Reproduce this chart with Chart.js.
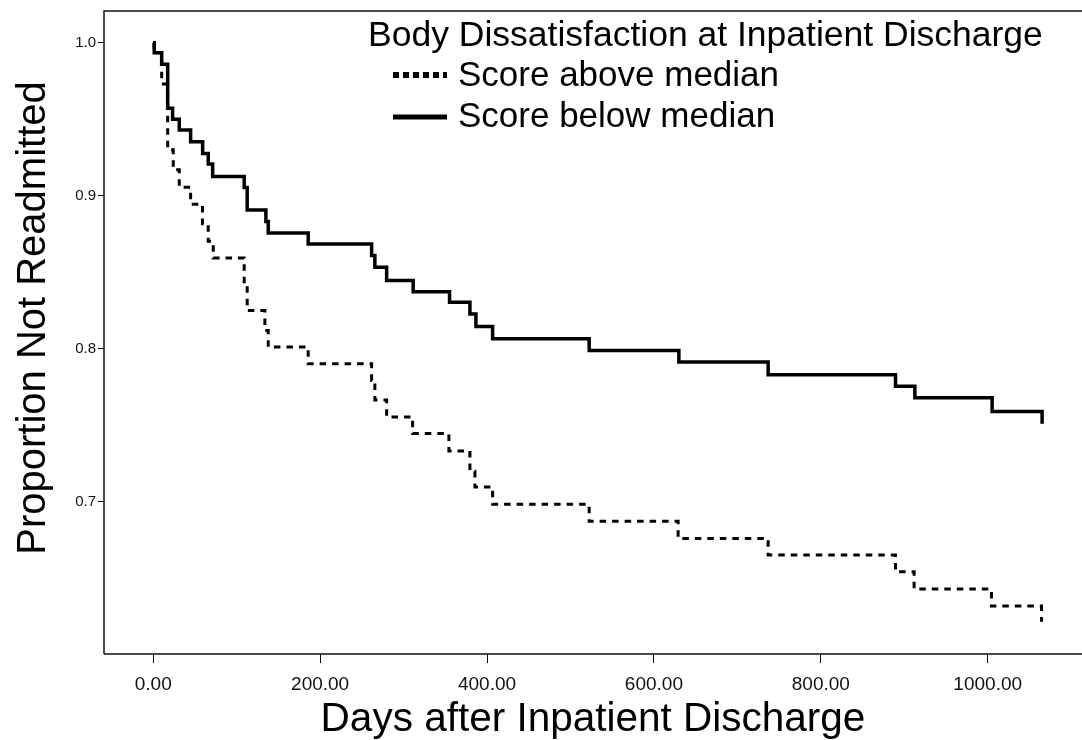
<!DOCTYPE html>
<html><head><meta charset="utf-8">
<script src="https://cdn.jsdelivr.net/npm/chart.js@4/dist/chart.umd.min.js"></script>
<style>html,body{margin:0;padding:0;background:#fff;overflow:hidden}#wrap{width:1082px;height:740px;position:relative}</style>
</head><body><div id="wrap"><canvas id="c" width="1082" height="740"></canvas></div>
<script>
const legendTitle = 'Body Dissatisfaction at Inpatient Discharge';
const seriesLabels = ['Score above median', 'Score below median'];
const xAxisTitle = 'Days after Inpatient Discharge';
const yAxisTitle = 'Proportion Not Readmitted';
const xTickValues = [0, 200, 400, 600, 800, 1000];
const yTickValues = [0.7, 0.8, 0.9, 1.0];

// Kaplan-Meier steps: day of drop, proportion after drop
const aboveDays = [0, 1, 10.1, 17.3, 24.0, 31.2, 44.8, 59.0, 65.9, 71.9, 109.0, 112.6, 133.8, 137.8, 185.7, 261.7, 265.6, 279.7, 310.8, 354.3, 379.5, 385.5, 406.7, 522.4, 629.0, 736.9, 889.5, 911.8, 1004.5, 1064.5];
const aboveSurv = [1.0, 0.9935, 0.973, 0.930, 0.917, 0.9055, 0.8945, 0.8817, 0.8702, 0.8594, 0.8426, 0.8250, 0.8119, 0.8012, 0.7902, 0.7793, 0.7666, 0.7555, 0.7446, 0.7333, 0.7200, 0.7097, 0.6984, 0.6873, 0.6760, 0.6652, 0.6543, 0.6430, 0.6319, 0.6217];
const belowDays = [0, 1.2, 10.1, 17.3, 23.2, 31.2, 44.8, 59.2, 65.9, 71.2, 109.0, 112.6, 135.0, 137.8, 185.7, 261.7, 265.6, 279.7, 311.5, 355.1, 379.5, 386.7, 406.7, 522.4, 629.9, 736.9, 889.5, 912.7, 1005.3, 1065.2];
const belowSurv = [1.0, 0.9935, 0.9859, 0.9572, 0.9500, 0.9429, 0.9352, 0.9276, 0.9207, 0.9126, 0.9054, 0.8907, 0.8832, 0.8757, 0.8685, 0.8609, 0.8532, 0.8446, 0.8372, 0.8304, 0.8228, 0.8145, 0.8065, 0.7989, 0.7913, 0.7830, 0.7756, 0.7680, 0.7591, 0.7511];

const FONT = "'Liberation Sans', Arial, sans-serif";
const toPts = (xs, ys) => xs.map((x, i) => ({x: x, y: ys[i]}));

const framePlugin = {
  id: 'frame',
  afterDraw(chart) {
    const {ctx, chartArea: a} = chart;
    ctx.save();
    ctx.strokeStyle = '#111';
    ctx.lineWidth = 1.5;
    ctx.beginPath();
    ctx.moveTo(a.left, a.bottom);
    ctx.lineTo(a.left, a.top);
    ctx.lineTo(a.right, a.top);
    ctx.moveTo(a.left, a.bottom);
    ctx.lineTo(a.right, a.bottom);
    ctx.stroke();
    // y axis title
    ctx.fillStyle = '#000';
    ctx.font = '40px ' + FONT;
    ctx.textAlign = 'center';
    ctx.textBaseline = 'alphabetic';
    ctx.translate(45, 318);
    ctx.rotate(-Math.PI / 2);
    ctx.fillText(yAxisTitle, 0, 0);
    ctx.restore();
  }
};

const legendPlugin = {
  id: 'kmLegend',
  afterDraw(chart) {
    const ctx = chart.ctx;
    ctx.save();
    ctx.fillStyle = '#000';
    ctx.textBaseline = 'alphabetic';
    ctx.textAlign = 'left';
    ctx.font = '35.5px ' + FONT;
    ctx.fillText(legendTitle, 368, 46);
    ctx.font = '35px ' + FONT;
    const rows = [{y: 75, ty: 86}, {y: 117, ty: 127}];
    chart.data.datasets.forEach((ds, i) => {
      const r = rows[i];
      ctx.strokeStyle = '#000';
      ctx.lineWidth = i === 0 ? 6 : 5;
      ctx.setLineDash(i === 0 ? [6, 4] : []);
      ctx.beginPath();
      ctx.moveTo(393, r.y);
      ctx.lineTo(447, r.y);
      ctx.stroke();
      ctx.setLineDash([]);
      ctx.fillText(ds.label, 458, r.ty);
    });
    ctx.restore();
  }
};

new Chart(document.getElementById('c'), {
  type: 'line',
  data: {
    datasets: [
      {label: seriesLabels[0], data: toPts(aboveDays, aboveSurv), stepped: 'before', borderColor: '#000', borderWidth: 3, borderDash: [6.5, 6], pointRadius: 0, fill: false, borderCapStyle: 'butt'},
      {label: seriesLabels[1], data: toPts(belowDays, belowSurv), stepped: 'before', borderColor: '#000', borderWidth: 3.5, pointRadius: 0, fill: false, borderJoinStyle: 'miter'}
    ]
  },
  options: {
    responsive: false,
    devicePixelRatio: 1,
    animation: false,
    layout: {padding: {top: 10, right: 0, left: 0, bottom: 0}},
    plugins: {legend: {display: false}, tooltip: {enabled: false}},
    scales: {
      x: {
        type: 'linear', min: -59, max: 1113,
        afterFit: (s) => { s.height = 86; },
        afterBuildTicks: (s) => { s.ticks = xTickValues.map(v => ({value: v})); },
        grid: {display: true, drawOnChartArea: false, drawTicks: true, tickLength: 9, color: '#000', lineWidth: 1},
        border: {display: false},
        ticks: {padding: 10, color: '#111', font: {family: FONT, size: 19}, maxRotation: 0, callback: (v) => Number(v).toFixed(2)},
        title: {display: true, text: xAxisTitle, color: '#000', font: {family: FONT, size: 40.5, lineHeight: 1}, padding: {top: 0, bottom: 0}}
      },
      y: {
        type: 'linear', min: 0.6006, max: 1.0207,
        afterFit: (s) => { s.width = 104; },
        afterBuildTicks: (s) => { s.ticks = yTickValues.map(v => ({value: v})); },
        grid: {display: true, drawOnChartArea: false, drawTicks: true, tickLength: 6, color: '#000', lineWidth: 1},
        border: {display: false},
        ticks: {padding: 2, color: '#111', font: {family: FONT, size: 15}, callback: (v) => Number(v).toFixed(1)},
        title: {display: false, text: yAxisTitle}
      }
    }
  },
  plugins: [framePlugin, legendPlugin]
});
</script></body></html>
